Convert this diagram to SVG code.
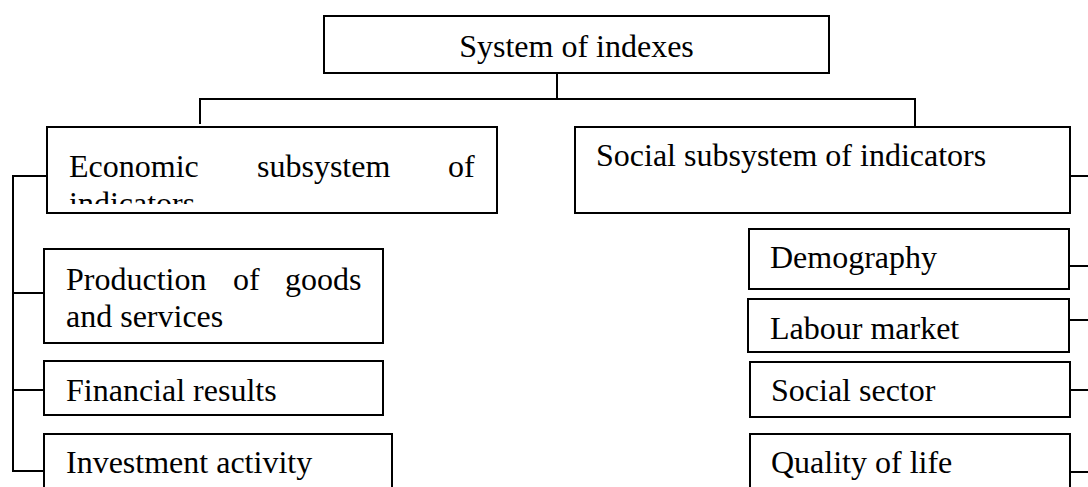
<svg xmlns="http://www.w3.org/2000/svg" width="1088" height="487" viewBox="0 0 1088 487">
<style>
.box{fill:#fff;stroke:#000;stroke-width:2}
.t{font-family:"Liberation Serif","Times New Roman",serif;font-size:32px;fill:#000}
.c{fill:none;stroke:#000;stroke-width:2}
</style>
<defs>
<clipPath id="econClip"><rect x="47" y="127" width="450" height="77"/></clipPath>
</defs>
<rect width="1088" height="487" fill="#fff"/>
<g id="connectors">
<path class="c" d="M557 73V99M200 124V99H915V127"/>
<path class="c" d="M47 176H13V471H44M13 293H44M13 390H44"/>
<path class="c" d="M1070 176H1088M1069 266H1088M1069 320H1088M1070 390H1088M1070 472H1088"/>
</g>
<g id="n-system">
<rect class="box" x="324" y="16" width="505" height="57"/>
<text class="t" x="576.5" y="56.5" text-anchor="middle">System of indexes</text>
</g>
<g id="n-economic">
<rect class="box" x="47" y="127" width="450" height="86"/>
<g clip-path="url(#econClip)">
<text class="t" y="177"><tspan x="69">Economic</tspan><tspan x="257">subsystem</tspan><tspan x="448">of</tspan></text>
<text class="t" x="69" y="214">indicators</text>
</g>
</g>
<g id="n-social">
<rect class="box" x="575" y="127" width="495" height="86"/>
<text class="t" x="596" y="166">Social subsystem of indicators</text>
</g>
<g id="n-production">
<rect class="box" x="44" y="249" width="339" height="94"/>
<text class="t" y="290"><tspan x="66">Production</tspan><tspan x="233">of</tspan><tspan x="285">goods</tspan></text>
<text class="t" x="66" y="327">and services</text>
</g>
<g id="n-financial">
<rect class="box" x="44" y="361" width="339" height="54"/>
<text class="t" x="66" y="401">Financial results</text>
</g>
<g id="n-investment">
<rect class="box" x="44" y="434" width="348" height="70"/>
<text class="t" x="66" y="473">Investment activity</text>
</g>
<g id="n-demography">
<rect class="box" x="749" y="229" width="320" height="60"/>
<text class="t" x="770" y="268">Demography</text>
</g>
<g id="n-labour">
<rect class="box" x="748" y="299" width="321" height="53"/>
<text class="t" x="770" y="339">Labour market</text>
</g>
<g id="n-socialsector">
<rect class="box" x="750" y="362" width="320" height="55"/>
<text class="t" x="771" y="401">Social sector</text>
</g>
<g id="n-quality">
<rect class="box" x="750" y="434" width="320" height="70"/>
<text class="t" x="771" y="473">Quality of life</text>
</g>
</svg>
